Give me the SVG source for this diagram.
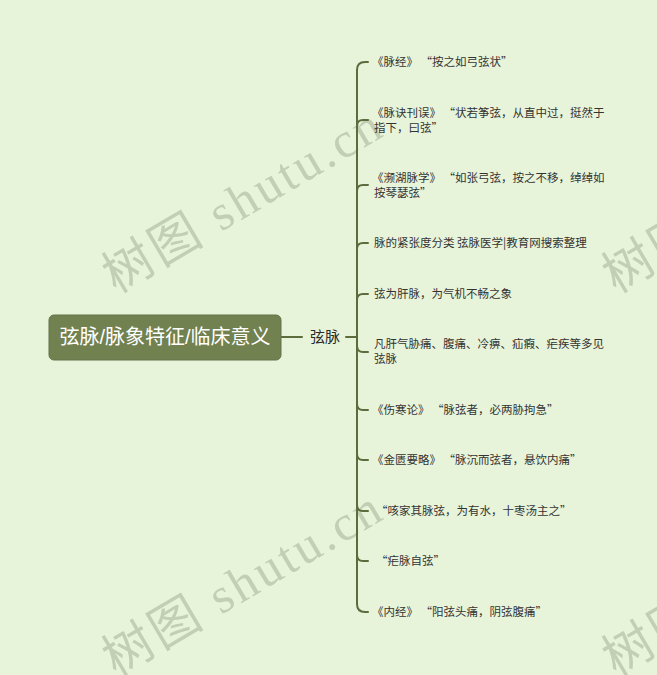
<svg xmlns="http://www.w3.org/2000/svg" width="657" height="675" viewBox="0 0 657 675">
<style>
.bg{fill:#e8f4da}
.wm{font-family:"Liberation Serif","Noto Sans CJK SC",serif;font-size:50px;fill:#a9b59b;fill-opacity:0.6}
.ln{fill:none;stroke:#5d6b3d;stroke-width:2;stroke-linecap:round}
.root rect{fill:#728150;stroke:#65734a;stroke-width:1}
.root text{font-family:"Liberation Sans","Noto Sans CJK SC",sans-serif;font-size:20px;fill:#ffffff;text-anchor:middle}
.sub text{font-family:"Liberation Sans","Noto Sans CJK SC",sans-serif;font-size:15px;fill:#2b2b2b}
.leaf text{font-family:"Noto Sans CJK SC","Liberation Sans",sans-serif;font-size:11.5px;fill:#333333}
</style>
<rect class="bg" x="0" y="0" width="657" height="675"/>
<g id="watermarks">
<text class="wm" transform="translate(116,294) rotate(-30.5)" textLength="312" lengthAdjust="spacing">树图 shutu.cn</text>
<text class="wm" transform="translate(116,677) rotate(-30.5)" textLength="312" lengthAdjust="spacing">树图 shutu.cn</text>
<text class="wm" transform="translate(616,294) rotate(-30.5)" textLength="312" lengthAdjust="spacing">树图 shutu.cn</text>
<text class="wm" transform="translate(616,677) rotate(-30.5)" textLength="312" lengthAdjust="spacing">树图 shutu.cn</text>
</g>
<g id="connectors">
<path class="ln" d="M281,337 L302,337"/>
<path class="ln" d="M346,337 L357,337"/>
<path class="ln" d="M357,337 L357,70 Q357,62 365,62 L368,62"/>
<path class="ln" d="M357,337 L357,126 Q357,120 363,120 L368,120"/>
<path class="ln" d="M357,337 L357,191 Q357,185 363,185 L368,185"/>
<path class="ln" d="M357,337 L357,249 Q357,243 363,243 L368,243"/>
<path class="ln" d="M357,337 L357,300 Q357,294 363,294 L368,294"/>
<path class="ln" d="M357,337 L357,346 Q357,352 363,352 L368,352"/>
<path class="ln" d="M357,337 L357,404 Q357,410 363,410 L368,410"/>
<path class="ln" d="M357,337 L357,454 Q357,460 363,460 L368,460"/>
<path class="ln" d="M357,337 L357,505 Q357,511 363,511 L368,511"/>
<path class="ln" d="M357,337 L357,555 Q357,561 363,561 L368,561"/>
<path class="ln" d="M357,337 L357,604 Q357,612 365,612 L368,612"/>
</g>
<g id="root" class="root">
<rect x="49" y="315" width="232" height="45" rx="5"/>
<text x="165" y="344">弦脉/脉象特征/临床意义</text>
</g>
<g id="sub" class="sub">
<text x="310" y="342">弦脉</text>
</g>
<g id="n1" class="leaf"><text x="372" y="66">《脉经》 “按之如弓弦状”</text></g>
<g id="n2" class="leaf"><text x="372" y="117">《脉诀刊误》 “状若筝弦，从直中过，挺然于</text><text x="374" y="132">指下，曰弦”</text></g>
<g id="n3" class="leaf"><text x="372" y="182">《濒湖脉学》 “如张弓弦，按之不移，绰绰如</text><text x="374" y="197">按琴瑟弦”</text></g>
<g id="n4" class="leaf"><text x="374" y="247">脉的紧张度分类 弦脉医学|教育网搜索整理</text></g>
<g id="n5" class="leaf"><text x="374" y="298">弦为肝脉，为气机不畅之象</text></g>
<g id="n6" class="leaf"><text x="374" y="348">凡肝气胁痛、腹痛、冷痹、疝瘕、疟疾等多见</text><text x="374" y="363">弦脉</text></g>
<g id="n7" class="leaf"><text x="372" y="414">《伤寒论》 “脉弦者，必两胁拘急”</text></g>
<g id="n8" class="leaf"><text x="372" y="464">《金匮要略》 “脉沉而弦者，悬饮内痛”</text></g>
<g id="n9" class="leaf"><text x="376" y="515">“咳家其脉弦，为有水，十枣汤主之”</text></g>
<g id="n10" class="leaf"><text x="376" y="565">“疟脉自弦”</text></g>
<g id="n11" class="leaf"><text x="372" y="616">《内经》 “阳弦头痛，阴弦腹痛”</text></g>
</svg>
